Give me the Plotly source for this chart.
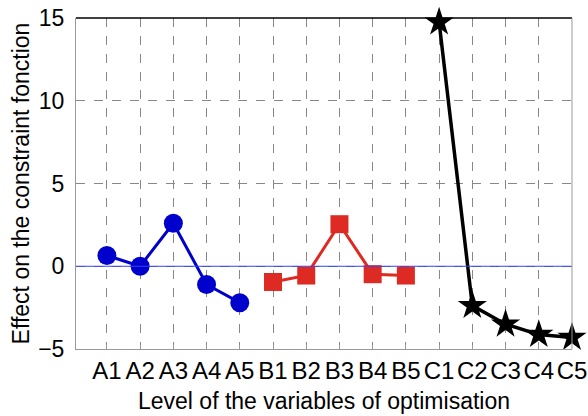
import plotly.graph_objects as go

categories = ["A1", "A2", "A3", "A4", "A5", "B1", "B2", "B3", "B4", "B5",
              "C1", "C2", "C3", "C4", "C5"]
a_values = [0.65, 0.0, 2.6, -1.1, -2.2]
b_values = [-0.95, -0.56, 2.54, -0.48, -0.56]
c_values = [14.75, -2.38, -3.5, -4.13, -4.3]

x_pos = list(range(1, len(categories) + 1))
font = "Liberation Sans, Arial, sans-serif"

fig = go.Figure()
fig.add_trace(go.Scatter(x=x_pos[0:5], y=a_values, mode="lines+markers",
                         line=dict(color="#0000CC", width=3),
                         marker=dict(symbol="circle", size=19, color="#0000CC"),
                         cliponaxis=False))
fig.add_trace(go.Scatter(x=x_pos[5:10], y=b_values, mode="lines+markers",
                         line=dict(color="#DD2A22", width=3),
                         marker=dict(symbol="square", size=18, color="#DD2A22"),
                         cliponaxis=False))
fig.add_trace(go.Scatter(x=x_pos[10:15], y=c_values, mode="lines+markers",
                         line=dict(color="black", width=3.5),
                         marker=dict(symbol="star", size=22, color="black"),
                         cliponaxis=False))

fig.add_hline(y=0, line=dict(color="#3344EE", width=1))

fig.update_layout(
    width=588, height=416,
    margin=dict(l=76, r=16, t=18, b=67),
    paper_bgcolor="white", plot_bgcolor="white",
    showlegend=False,
    font=dict(family=font, size=23, color="black"),
    xaxis=dict(range=[0.07, 15], tickmode="array", tickvals=x_pos, ticktext=categories,
               tickfont=dict(size=24),
               showgrid=True, gridcolor="#888888", griddash="dash", gridwidth=1,
               showline=True, linecolor="#999999", linewidth=1, mirror=False,
               ticks="inside", ticklen=4, tickcolor="#999999", zeroline=False,
               automargin=False,
               title=dict(text="Level of the variables of optimisation",
                          font=dict(size=23), standoff=10)),
    yaxis=dict(range=[-5, 15], tickvals=[-5, 0, 5, 10, 15],
               showgrid=True, gridcolor="#888888", griddash="dash", gridwidth=1,
               showline=True, linecolor="#999999", linewidth=1,
               ticks="", zeroline=False, automargin=False,
               ticklabelstandoff=6,
               title=dict(text="Effect on the constraint fonction",
                          font=dict(size=23), standoff=2)),
)
# top and right box lines
fig.add_shape(type="line", xref="paper", yref="paper", x0=0, x1=1, y0=1, y1=1,
              line=dict(color="black", width=1.5))
fig.add_shape(type="line", xref="paper", yref="paper", x0=1, x1=1, y0=0, y1=1,
              line=dict(color="#999999", width=1))

fig.write_html("out.html", config={"displayModeBar": False},
               post_script="document.body.style.margin='0';document.body.style.overflow='hidden';")
